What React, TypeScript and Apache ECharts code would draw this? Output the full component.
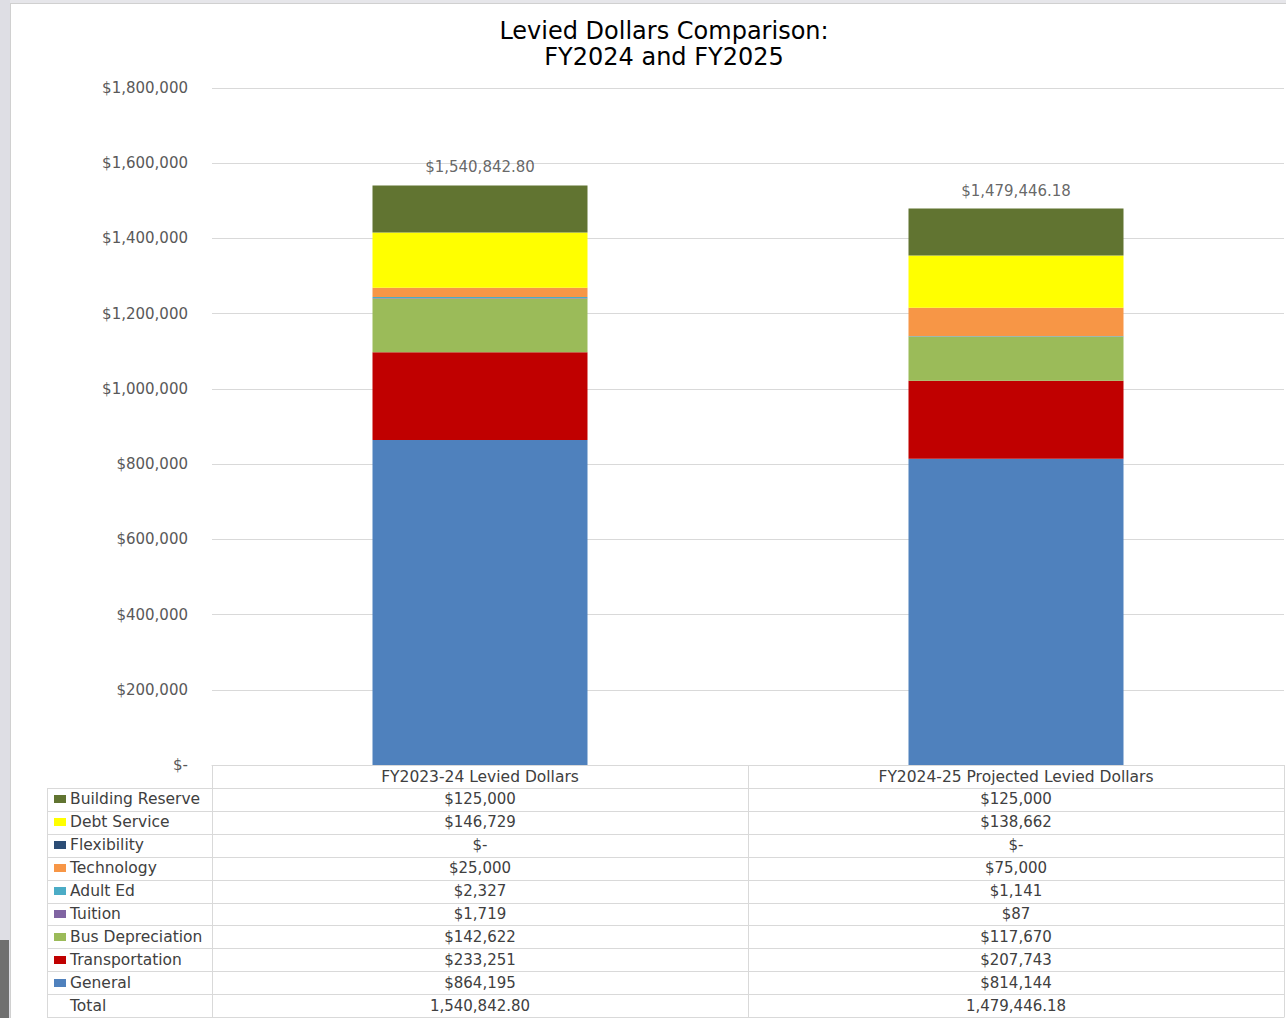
import React, { useEffect, useRef } from "react";
import * as echarts from "echarts";

const categories = ["FY2023-24 Levied Dollars", "FY2024-25 Projected Levied Dollars"];

// stack order, bottom to top
const seriesNames = [
  "General",
  "Transportation",
  "Bus Depreciation",
  "Tuition",
  "Adult Ed",
  "Technology",
  "Flexibility",
  "Debt Service",
  "Building Reserve",
];
const general = [864195, 814144];
const transportation = [233251, 207743];
const busDepreciation = [142622, 117670];
const tuition = [1719, 87];
const adultEd = [2327, 1141];
const technology = [25000, 75000];
const flexibility = [0, 0];
const debtService = [146729, 138662];
const buildingReserve = [125000, 125000];
const totals = [1540842.8, 1479446.18];

const seriesColors = [
  "#4f81bd",
  "#c00000",
  "#9bbb59",
  "#8064a2",
  "#4bacc6",
  "#f79646",
  "#2c4d75",
  "#ffff00",
  "#617431",
];

const yMin = 0;
const yMax = 1800000;
const yInterval = 200000;

const FONT = "'DejaVu Sans', sans-serif";

const fmtDollar = (v: number) =>
  v === 0 ? "$-" : "$" + Math.round(v).toLocaleString("en-US");
const fmtTotal = (v: number) =>
  v.toLocaleString("en-US", { minimumFractionDigits: 2, maximumFractionDigits: 2 });

export default function App() {
  const ref = useRef<HTMLDivElement>(null);

  useEffect(() => {
    if (!ref.current) return;
    const chart = echarts.init(ref.current, undefined, { renderer: "svg" });

    const seriesData = [
      general,
      transportation,
      busDepreciation,
      tuition,
      adultEd,
      technology,
      flexibility,
      debtService,
      buildingReserve,
    ];

    // layout
    const gridLeft = 212;
    const gridRightX = 1284;
    const gridTop = 88;
    const gridBottomY = 765;
    const tableLeft = 47;
    const rowTop = 788;
    const rowH = 22.9;
    const colMid = 748;
    const col1C = (gridLeft + colMid) / 2;
    const col2C = (colMid + gridRightX) / 2;
    const lineColor = "#d9d9d9";
    const textColor = "#404040";
    const numSize = 15;
    const wordSize = 15.5;

    // table rows, top to bottom
    const rowIdx = [8, 7, 6, 5, 4, 3, 2, 1, 0];
    const graphics: any[] = [];

    // page surround
    graphics.push({ type: "rect", shape: { x: 0, y: 0, width: 1286, height: 4 }, style: { fill: "#e6e6ea" }, silent: true });
    graphics.push({ type: "rect", shape: { x: 0, y: 0, width: 10, height: 1018 }, style: { fill: "#dedee4" }, silent: true });
    graphics.push({ type: "rect", shape: { x: 0, y: 940, width: 9, height: 78 }, style: { fill: "#6f6f6f" }, silent: true });
    graphics.push({ type: "line", shape: { x1: 10.5, y1: 4, x2: 10.5, y2: 1018 }, style: { stroke: "#d0d0d0", lineWidth: 1 }, silent: true });
    graphics.push({ type: "line", shape: { x1: 10, y1: 3.5, x2: 1286, y2: 3.5 }, style: { stroke: "#d0d0d0", lineWidth: 1 }, silent: true });

    // table horizontal lines
    for (let i = 0; i <= 10; i++) {
      const y = Math.round(rowTop + i * rowH) + 0.5;
      graphics.push({
        type: "line",
        shape: { x1: tableLeft, y1: y, x2: gridRightX, y2: y },
        style: { stroke: lineColor, lineWidth: 1 },
        silent: true,
      });
    }
    const bottomY = Math.round(rowTop + 10 * rowH) + 0.5;
    graphics.push({ type: "line", shape: { x1: tableLeft + 0.5, y1: rowTop, x2: tableLeft + 0.5, y2: bottomY }, style: { stroke: lineColor, lineWidth: 1 }, silent: true });
    [gridLeft, colMid, gridRightX].forEach((x) => {
      graphics.push({ type: "line", shape: { x1: x + 0.5, y1: gridBottomY, x2: x + 0.5, y2: bottomY }, style: { stroke: lineColor, lineWidth: 1 }, silent: true });
    });

    const cellText = (x: number, y: number, text: string, align: string, size: number) => ({
      type: "text",
      x,
      y,
      style: { text, fill: textColor, font: `${size}px ${FONT}`, textAlign: align, textVerticalAlign: "middle" },
      silent: true,
    });

    rowIdx.forEach((si, r) => {
      const cy = rowTop + r * rowH + rowH / 2;
      graphics.push({
        type: "rect",
        shape: { x: 54, y: Math.round(cy - 4), width: 12, height: 8 },
        style: { fill: seriesColors[si] },
        silent: true,
      });
      graphics.push(cellText(70, cy, seriesNames[si], "left", wordSize));
      graphics.push(cellText(col1C, cy, fmtDollar(seriesData[si][0]), "center", numSize));
      graphics.push(cellText(col2C, cy, fmtDollar(seriesData[si][1]), "center", numSize));
    });
    {
      const cy = rowTop + 9 * rowH + rowH / 2;
      graphics.push(cellText(70, cy, "Total", "left", wordSize));
      graphics.push(cellText(col1C, cy, fmtTotal(totals[0]), "center", numSize));
      graphics.push(cellText(col2C, cy, fmtTotal(totals[1]), "center", numSize));
    }

    const series: any[] = seriesNames.map((name, i) => ({
      name,
      type: "bar",
      stack: "levy",
      barWidth: 215,
      data: seriesData[i],
      itemStyle: { color: seriesColors[i] },
    }));
    series.push({
      name: "Total",
      type: "scatter",
      data: totals,
      symbolSize: 1,
      itemStyle: { color: "rgba(0,0,0,0)" },
      label: {
        show: true,
        position: "top",
        distance: 10,
        formatter: (p: any) => "$" + fmtTotal(p.value),
        color: textColor,
        fontSize: numSize,
        fontFamily: FONT,
      },
      z: 5,
    });

    chart.setOption({
      animation: false,
      backgroundColor: "#ffffff",
      textStyle: { fontFamily: FONT },
      title: {
        text: "Levied Dollars Comparison:\nFY2024 and FY2025",
        left: 659,
        top: 13,
        textAlign: "center",
        textStyle: { fontSize: 24, fontWeight: "normal", color: "#000000", lineHeight: 26, fontFamily: FONT },
      },
      grid: {
        left: gridLeft,
        right: 1286 - gridRightX,
        top: gridTop,
        bottom: 1018 - gridBottomY,
        containLabel: false,
      },
      xAxis: {
        type: "category",
        data: categories,
        axisLine: { show: true, lineStyle: { color: lineColor } },
        axisTick: { show: false },
        axisLabel: { color: textColor, fontSize: wordSize, fontFamily: FONT, margin: 4 },
      },
      yAxis: {
        type: "value",
        min: yMin,
        max: yMax,
        interval: yInterval,
        axisLine: { show: false },
        axisTick: { show: false },
        splitLine: { lineStyle: { color: lineColor } },
        axisLabel: {
          color: "#595959",
          fontSize: numSize,
          fontFamily: FONT,
          margin: 24,
          formatter: (v: number) => fmtDollar(v),
        },
      },
      series,
      graphic: graphics,
    });

    return () => chart.dispose();
  }, []);

  return (
    <div
      ref={ref}
      style={{ position: "fixed", left: 0, top: 0, width: 1286, height: 1018 }}
    />
  );
}
